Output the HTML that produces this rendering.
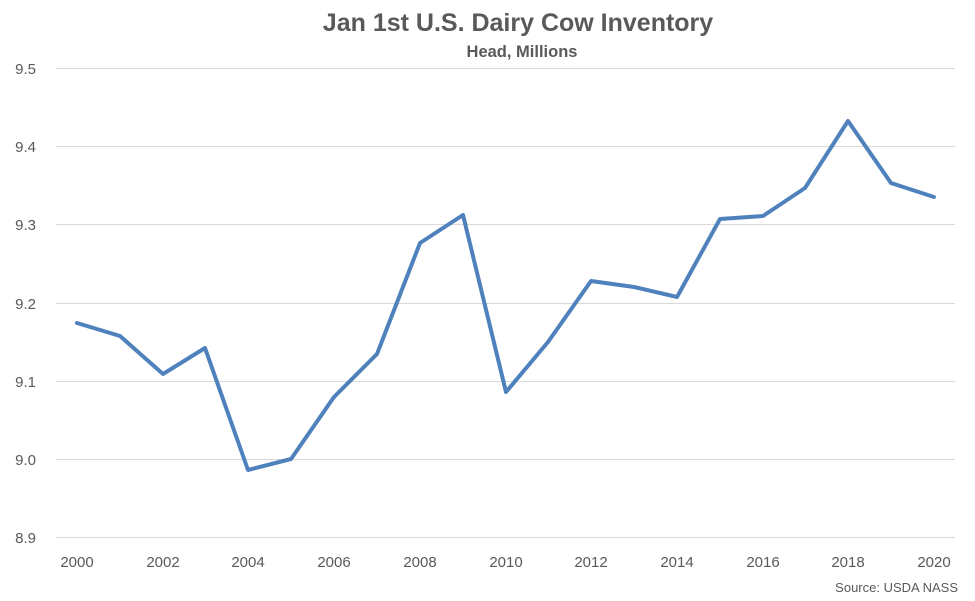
<!DOCTYPE html>
<html><head><meta charset="utf-8"><style>
body{margin:0;background:#fff;}
svg{display:block;font-family:"Liberation Sans",sans-serif;}
</style></head><body>
<svg width="975" height="601" viewBox="0 0 975 601">
<rect width="975" height="601" fill="#fff"/>
<text x="518" y="31" text-anchor="middle" font-size="25" font-weight="bold" fill="#595959">Jan 1st U.S. Dairy Cow Inventory</text>
<text x="522" y="57" text-anchor="middle" font-size="16.5" font-weight="bold" fill="#595959">Head, Millions</text>
<g stroke="#d9d9d9" stroke-width="1">
<line x1="56" x2="955" y1="68.5" y2="68.5"/>
<line x1="56" x2="955" y1="146.5" y2="146.5"/>
<line x1="56" x2="955" y1="224.5" y2="224.5"/>
<line x1="56" x2="955" y1="303.5" y2="303.5"/>
<line x1="56" x2="955" y1="381.5" y2="381.5"/>
<line x1="56" x2="955" y1="459.5" y2="459.5"/>
<line x1="56" x2="955" y1="537.5" y2="537.5"/>
</g>
<g font-size="15" fill="#595959" text-anchor="end">
<text x="36" y="74">9.5</text><text x="36" y="152">9.4</text><text x="36" y="230">9.3</text>
<text x="36" y="309">9.2</text><text x="36" y="387">9.1</text><text x="36" y="465">9.0</text><text x="36" y="543">8.9</text>
</g>
<g font-size="15" fill="#595959" text-anchor="middle">
<text x="77" y="567">2000</text><text x="163" y="567">2002</text><text x="248" y="567">2004</text>
<text x="334" y="567">2006</text><text x="420" y="567">2008</text><text x="506" y="567">2010</text>
<text x="591" y="567">2012</text><text x="677" y="567">2014</text><text x="763" y="567">2016</text>
<text x="848" y="567">2018</text><text x="934" y="567">2020</text>
</g>
<polyline fill="none" stroke="#4f81bd" stroke-width="4" stroke-linejoin="round" stroke-linecap="round"
points="77,323 120,336 163,374 205,348 248,470 291,459 334,397 377,354 420,243 463,215 506,392 548,342 591,281 634,287 677,297 720,219 763,216 805,188 848,121 891,183 934,197"/>
<text x="958" y="592" text-anchor="end" font-size="13" fill="#595959">Source: USDA NASS</text>
</svg>
</body></html>
